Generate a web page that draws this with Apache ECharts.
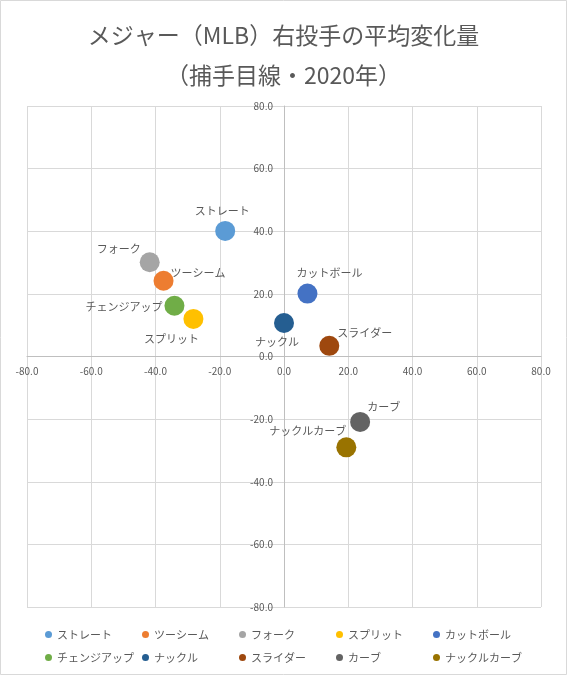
<!DOCTYPE html>
<html>
<head>
<meta charset="utf-8">
<script src="https://cdn.jsdelivr.net/npm/echarts@6/dist/echarts.min.js"></script>
<style>
html,body{margin:0;padding:0;background:#fff;}
#c{width:567px;height:675px;}
</style>
</head>
<body>
<div id="c"></div>
<script>
// ---- data ----
const pitchNames = ['ストレート','ツーシーム','フォーク','スプリット','カットボール','チェンジアップ','ナックル','スライダー','カーブ','ナックルカーブ'];
const horizontalBreak = [-18.3, -37.5, -41.8, -28.2, 7.3, -34.1, 0.0, 14.1, 23.7, 19.4];
const verticalBreak   = [40.1, 24.2, 30.1, 12.0, 20.1, 16.2, 10.7, 3.4, -20.9, -29.0];
const axisTicks = [-80, -60, -40, -20, 0, 20, 40, 60, 80];

// ---- styling / layout ----
const colors = ['#5B9BD5','#ED7D31','#A5A5A5','#FFC000','#4472C4','#70AD47','#255E91','#9E480E','#636363','#997300'];
const labelPlace = [
  {position:'top', offset:[-3,0]},
  {position:'right', offset:[-8,-8]},
  {position:'left', offset:[6,-13]},
  {position:'bottom', offset:[-22,-1]},
  {position:'top', offset:[22,0]},
  {position:'left', offset:[3,1]},
  {position:'bottom', offset:[-7,-2]},
  {position:'right', offset:[-7,-13]},
  {position:'right', offset:[-8,-15]},
  {position:'left', offset:[15,-16]}
];
const legendPos = [
  [45,629],[142,629],[239,629],[336,629],[433,629],
  [45,652],[142,652],[239,652],[336,652],[433,652]
];
const G = {left:27, right:26, top:106, bottom:68, W:567, H:675};
const plotW = G.W - G.left - G.right, plotH = G.H - G.top - G.bottom;
const txt = '#595959';
const font = '"Noto Sans CJK JP", "Noto Sans", sans-serif';

const series = pitchNames.map((n,i)=>({
  name:n, type:'scatter', symbol:'circle', symbolSize:20,
  itemStyle:{color:colors[i], opacity:1},
  data:[[horizontalBreak[i], verticalBreak[i]]],
  label:{show:true, formatter:n, position:labelPlace[i].position, offset:labelPlace[i].offset,
    distance:5, color:txt, fontSize:11, fontFamily:font},
  emphasis:{disabled:true}
}));

const legends = pitchNames.map((n,i)=>({
  data:[n], left:legendPos[i][0], top:legendPos[i][1], orient:'horizontal',
  icon:'circle', itemWidth:7, itemHeight:7, itemGap:0, padding:0,
  textStyle:{color:txt, fontSize:11, fontFamily:font},
  selectedMode:false
}));

const chart = echarts.init(document.getElementById('c'), null, {renderer:'canvas'});
const minV = axisTicks[0], maxV = axisTicks[axisTicks.length-1];
chart.setOption({
  animation:false,
  backgroundColor:'#fff',
  color:colors,
  title:{
    text:'メジャー（MLB）右投手の平均変化量\n（捕手目線・2020年）',
    left:'center', top:10,
    textStyle:{color:txt, fontSize:23, fontWeight:'normal', lineHeight:40, fontFamily:font}
  },
  legend:legends,
  grid:{left:G.left, right:G.right, top:G.top, bottom:G.bottom, containLabel:false, outerBoundsMode:'none'},
  xAxis:{
    type:'value', min:minV, max:maxV, interval:20, position:'bottom',
    offset: -plotH * (0 - minV) / (maxV - minV),
    axisLine:{show:true, onZero:false, lineStyle:{color:'#bfbfbf'}},
    axisTick:{show:false},
    axisLabel:{color:txt, fontSize:10, fontFamily:font, margin:10, formatter:v=>v.toFixed(1)},
    splitLine:{show:true, lineStyle:{color:'#d9d9d9'}}
  },
  yAxis:{
    type:'value', min:minV, max:maxV, interval:20, position:'left',
    offset: -plotW * (0 - minV) / (maxV - minV),
    axisLine:{show:true, onZero:false, lineStyle:{color:'#bfbfbf'}},
    axisTick:{show:false},
    axisLabel:{color:txt, fontSize:10, fontFamily:font, margin:11, formatter:v=>v.toFixed(1)},
    splitLine:{show:true, lineStyle:{color:'#d9d9d9'}}
  },
  graphic:[{type:'rect', shape:{x:0.5,y:0.5,width:566,height:674}, style:{fill:null, stroke:'#d9d9d9', lineWidth:1}, silent:true, z:-1}],
  series:series
});
</script>
</body>
</html>
